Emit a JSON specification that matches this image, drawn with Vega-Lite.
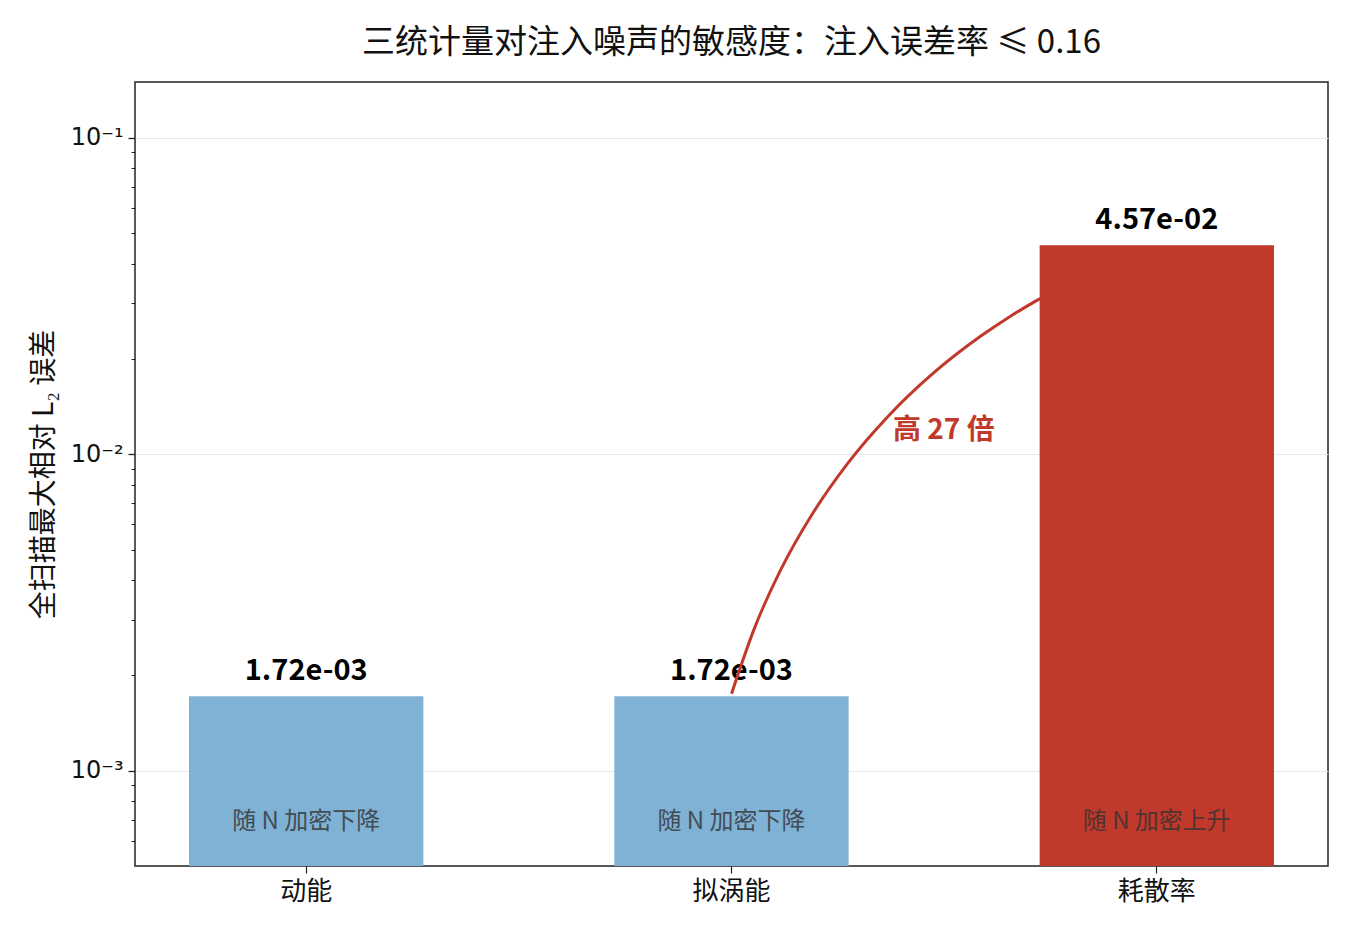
{
  "$schema": "https://vega.github.io/schema/vega-lite/v6.json",
  "autosize": {"type": "none"},
  "width": 1193,
  "height": 784,
  "padding": {"left": 135, "top": 82, "right": 22, "bottom": 64},
  "background": "white",
  "title": {
    "text": "三统计量对注入噪声的敏感度：注入误差率 ≤ 0.16",
    "font": "Noto Sans CJK SC",
    "fontSize": 33,
    "fontWeight": "normal",
    "color": "#111",
    "offset": 22
  },
  "config": {
    "font": "Noto Sans CJK SC",
    "view": {"stroke": "#222", "strokeWidth": 1.5}
  },
  "datasets": {
    "bars": [
      {"stat": "动能", "err": 0.00172, "label": "1.72e-03", "note": "随 N 加密下降", "trend": "down"},
      {"stat": "拟涡能", "err": 0.00172, "label": "1.72e-03", "note": "随 N 加密下降", "trend": "down"},
      {"stat": "耗散率", "err": 0.0457, "label": "4.57e-02", "note": "随 N 加密上升", "trend": "up"}
    ],
    "arc": [
      {"u": 1.0016, "v": 0.001751},
      {"u": 1.054, "v": 0.002787},
      {"u": 1.1169, "v": 0.004301},
      {"u": 1.1905, "v": 0.006436},
      {"u": 1.2745, "v": 0.009341},
      {"u": 1.3691, "v": 0.01314},
      {"u": 1.4742, "v": 0.01793},
      {"u": 1.5898, "v": 0.02371},
      {"u": 1.6516, "v": 0.02696},
      {"u": 1.716, "v": 0.0304},
      {"u": 1.7292, "v": 0.03112}
    ],
    "ratio": [
      {"u": 1.501, "v": 0.01187, "text": "高 27 倍"}
    ]
  },
  "layer": [
    {
      "data": {"name": "bars"},
      "encoding": {
        "x": {
          "field": "stat",
          "type": "nominal",
          "sort": null,
          "scale": {"paddingInner": 0.449, "paddingOuter": 0.127},
          "axis": {
            "title": null,
            "labelAngle": 0,
            "labelFont": "Noto Sans CJK SC",
            "labelFontSize": 26,
            "labelColor": "#111",
            "labelPadding": 5,
            "tickSize": 7,
            "tickColor": "#222",
            "tickWidth": 1.2,
            "domain": false,
            "grid": false
          }
        }
      },
      "layer": [
        {
          "mark": {"type": "bar"},
          "encoding": {
            "y": {
              "field": "err",
              "type": "quantitative",
              "scale": {"type": "log", "domain": [0.0005, 0.15], "nice": false},
              "axis": {
                "values": [0.0006, 0.0007, 0.0008, 0.0009, 0.001, 0.002, 0.003, 0.004, 0.005, 0.006, 0.007, 0.008, 0.009, 0.01, 0.02, 0.03, 0.04, 0.05, 0.06, 0.07, 0.08, 0.09, 0.1],
                "labelExpr": "datum.value == 0.1 ? '10⁻¹' : datum.value == 0.01 ? '10⁻²' : datum.value == 0.001 ? '10⁻³' : ''",
                "labelFont": "DejaVu Sans",
                "labelFontSize": 24,
                "labelColor": "#111",
                "labelPadding": 5,
                "tickSize": {"condition": {"test": "indexof([0.001, 0.01, 0.1], datum.value) >= 0", "value": 7}, "value": 4},
                "tickColor": "#222",
                "tickWidth": {"condition": {"test": "indexof([0.001, 0.01, 0.1], datum.value) >= 0", "value": 1.3}, "value": 1},
                "domain": false,
                "grid": true,
                "gridColor": "#e8e8e8",
                "gridWidth": 1.2,
                "gridOpacity": {"condition": {"test": "indexof([0.001, 0.01, 0.1], datum.value) >= 0", "value": 1}, "value": 0},
                "title": "全扫描最大相对 L₂ 误差",
                "titleFont": "Noto Sans CJK SC",
                "titleFontSize": 28,
                "titleFontWeight": "normal",
                "titleColor": "#111",
                "titlePadding": 12
              }
            },
            "y2": {"datum": 0.0005},
            "color": {
              "field": "trend",
              "type": "nominal",
              "scale": {"domain": ["down", "up"], "range": ["#7fb2d5", "#c0392b"]},
              "legend": null
            }
          }
        },
        {
          "mark": {"type": "text", "baseline": "bottom", "dy": -10, "fontSize": 29, "fontWeight": "bold", "color": "#000"},
          "encoding": {
            "y": {"field": "err", "type": "quantitative"},
            "text": {"field": "label"}
          }
        },
        {
          "mark": {"type": "text", "baseline": "middle", "fontSize": 24, "color": "#333", "opacity": 0.8},
          "encoding": {
            "y": {"datum": 0.00069, "type": "quantitative"},
            "text": {"field": "note"}
          }
        }
      ]
    },
    {
      "encoding": {
        "x": {
          "field": "u",
          "type": "quantitative",
          "scale": {"domain": [-0.402, 2.405], "nice": false, "zero": false},
          "axis": null
        }
      },
      "layer": [
        {
          "data": {"name": "arc"},
          "mark": {"type": "line", "interpolate": "monotone", "color": "#c0392b", "strokeWidth": 3},
          "encoding": {
            "y": {"field": "v", "type": "quantitative"}
          }
        },
        {
          "data": {"name": "ratio"},
          "mark": {"type": "text", "baseline": "middle", "fontSize": 28, "fontWeight": "bold", "color": "#c0392b"},
          "encoding": {
            "y": {"field": "v", "type": "quantitative"},
            "text": {"field": "text"}
          }
        }
      ]
    }
  ],
  "resolve": {"scale": {"x": "independent"}}
}
